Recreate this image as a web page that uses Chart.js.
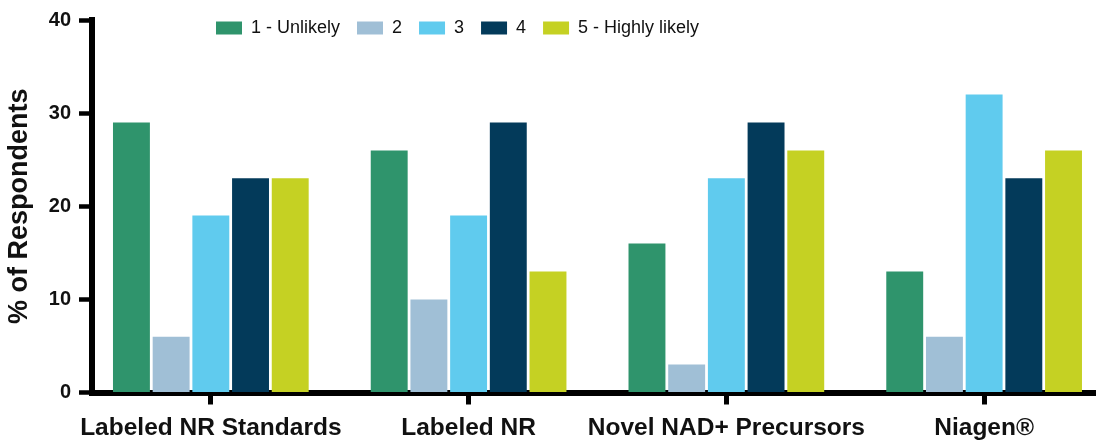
<!DOCTYPE html>
<html lang="en">
<head>
  <meta charset="UTF-8">
  <title>Likelihood by product</title>
  <script src="https://cdn.jsdelivr.net/npm/chart.js"></script>
  <style>
    body {
      margin: 0;
      background-color: #fff;
    }
    #chart-container {
      width: 1096px;
      height: 443px;
    }
  </style>
</head>
<body>
  <div id="chart-container">
    <canvas id="myChart"></canvas>
  </div>

  <script>
    // Values (% of respondents)
    const categories = ['Labeled NR Standards', 'Labeled NR', 'Novel NAD+ Precursors', 'Niagen®'];
    const seriesNames = ['1 - Unlikely', '2', '3', '4', '5 - Highly likely'];
    const unlikely = [29, 26, 16, 13];
    const two = [6, 10, 3, 6];
    const three = [19, 19, 23, 32];
    const four = [23, 29, 29, 23];
    const highlyLikely = [23, 13, 26, 26];
    const yTicks = [0, 10, 20, 30, 40];

    const colors = ['#2f946c', '#a0bfd6', '#60cbee', '#033a5a', '#c5d123'];
    const allSeries = [unlikely, two, three, four, highlyLikely];

    const labelFont = "'Liberation Sans', Arial, sans-serif";

    // bars sit on a linear x axis so the groups can be placed like the original
    const datasets = allSeries.map((vals, s) => ({
      label: seriesNames[s],
      data: vals.map((v, i) => ({ x: i, y: v })),
      backgroundColor: colors[s],
      borderWidth: 0,
      categoryPercentage: 0.77,
      barPercentage: 0.93
    }));

    // legend only reserves 20px above the plot, but is drawn a bit lower
    const legendShift = {
      id: 'legendShift',
      beforeInit(chart) {
        const fit = chart.legend.fit;
        chart.legend.fit = function() {
          fit.call(this);
          this.height = 20;
        };
      },
      afterLayout(chart) {
        const lg = chart.legend;
        lg.left = 216 - lg.options.labels.padding;
        lg.top = 2;
        lg.bottom = 52;
        lg.height = 50;
      }
    };

    const ctx = document.getElementById('myChart').getContext('2d');
    const chart = new Chart(ctx, {
      type: 'bar',
      data: { datasets: datasets },
      plugins: [legendShift],
      options: {
        responsive: true,
        maintainAspectRatio: false,
        animation: false,
        layout: { padding: 0 },
        plugins: {
          legend: {
            position: 'top',
            align: 'start',
            labels: {
              font: { family: labelFont, size: 18 },
              color: '#111',
              boxWidth: 26,
              boxHeight: 13,
              padding: 17
            }
          },
          tooltip: { enabled: false }
        },
        scales: {
          x: {
            type: 'linear',
            offset: false,
            min: -0.461,
            max: 3.434,
            z: 1,
            afterBuildTicks: function(scale) {
              scale.ticks = categories.map((c, i) => ({ value: i }));
            },
            afterFit: function(scale) {
              scale.height = 50.5;
            },
            ticks: {
              autoSkip: false,
              maxRotation: 0,
              padding: 9,
              color: '#111',
              font: { family: labelFont, size: 24.5, weight: 'bold' },
              callback: function(value) {
                return categories[value];
              }
            },
            grid: {
              offset: false,
              drawOnChartArea: false,
              tickLength: 12,
              tickWidth: 5,
              tickColor: '#000'
            },
            border: { color: '#000', width: 6 }
          },
          y: {
            min: 0,
            max: 40,
            z: 1,
            afterBuildTicks: function(scale) {
              scale.ticks = yTicks.map(v => ({ value: v }));
            },
            afterFit: function(scale) {
              scale.width = 92;
            },
            ticks: {
              padding: 8,
              color: '#111',
              font: { family: labelFont, size: 20, weight: 'bold' }
            },
            grid: {
              drawOnChartArea: false,
              tickLength: 13,
              tickWidth: 4.5,
              tickColor: '#000'
            },
            border: { color: '#000', width: 6 },
            title: {
              display: true,
              text: '% of Respondents',
              color: '#111',
              font: { family: labelFont, size: 27, weight: 'bold' },
              padding: { top: 3, bottom: 4 }
            }
          }
        }
      }
    });
  </script>
</body>
</html>
